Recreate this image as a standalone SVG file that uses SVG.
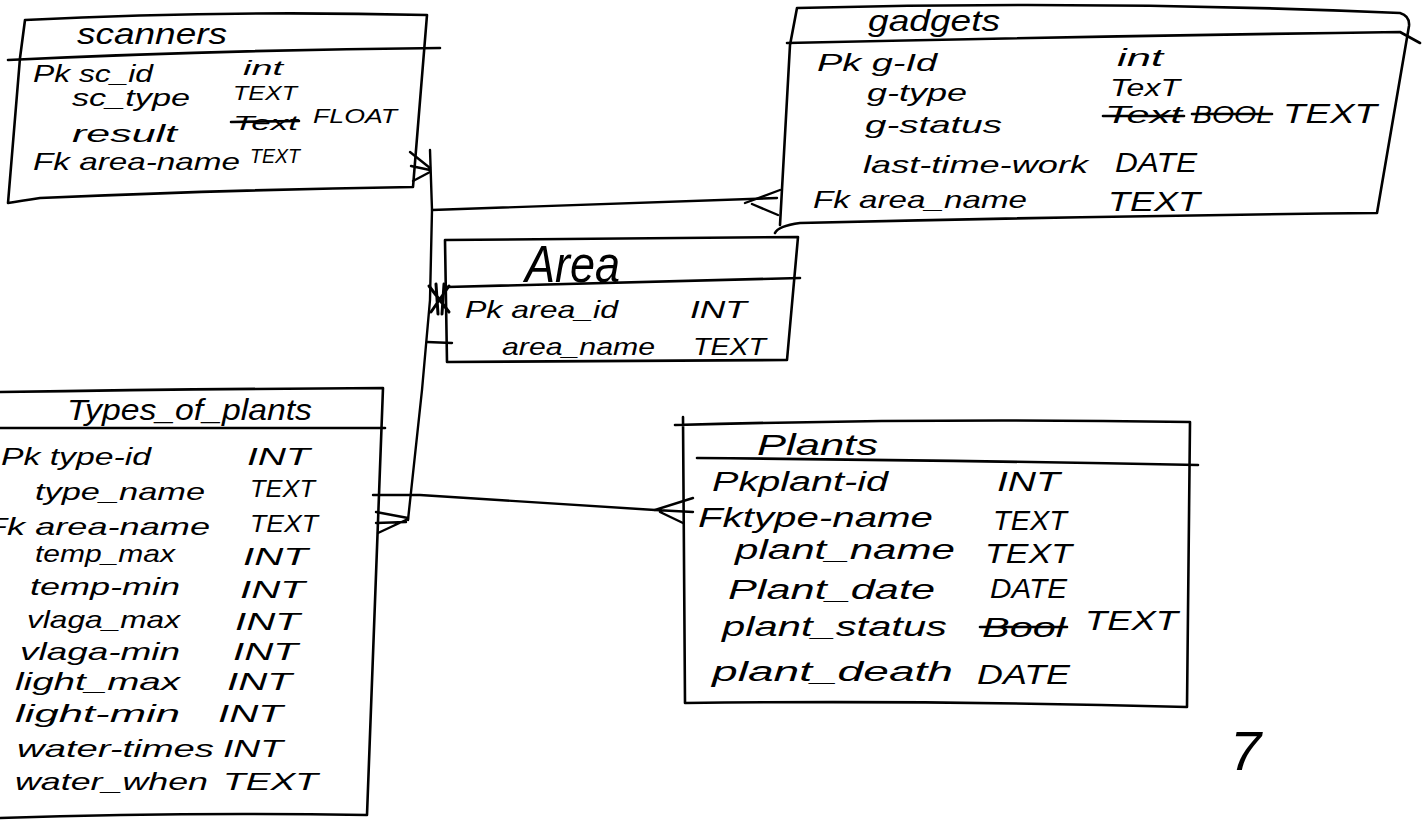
<svg xmlns="http://www.w3.org/2000/svg" width="1424" height="821" viewBox="0 0 1424 821">
<style>
.e{fill:none;stroke:#000;stroke-width:2.6;stroke-linecap:round;stroke-linejoin:round}
.c{fill:none;stroke:#000;stroke-width:2.4;stroke-linecap:round;stroke-linejoin:round}
.s{stroke:#000;stroke-width:2.6;stroke-linecap:round}
text{font-family:"Liberation Sans",Arial,sans-serif;font-style:italic;font-size:24px;fill:#000}
.t{font-size:30px}
.m{font-size:21px}
.p{font-size:27px}
</style>
<rect width="1424" height="821" fill="#fff"/>

<g id="connectors">
  <polyline class="c" points="430,150 432,210 430,300 422,390 408,520"/>
  <path class="c" d="M410,152 L430,168 M411,166 L430,170 M413,181 L430,172"/>
  <path class="c" d="M432,210 L777,198"/>
  <path class="c" d="M745,203 L780,190 M752,204 L778,215"/>
  <path class="c" d="M427,342 L452,343"/>
  <path class="e" d="M429,286 L449,312 M431,312 L449,286 M436,284 L438,314 M444,284 L442,314" style="stroke-width:3"/>
  <path class="c" d="M373,495 L420,495 L655,510"/>
  <path class="c" d="M376,512 L408,518 M378,533 L408,519 M376,523 L406,522"/>
  <path class="c" d="M655,510 L693,498 M655,510 L693,512 M660,512 L683,523"/>
</g>

<g id="scanners">
  <path class="e" d="M25,20 Q220,10 427,15 L413,187 Q220,190 40,198 Q20,201 8,203 L20,58 Z"/>
  <path class="e" d="M8,60 Q220,50 440,48"/>
  <text class="t" x="77" y="44" textLength="150" lengthAdjust="spacingAndGlyphs">scanners</text>
  <text x="33" y="82" textLength="120" lengthAdjust="spacingAndGlyphs">Pk sc_id</text>
  <text class="m" x="243" y="75" textLength="40" lengthAdjust="spacingAndGlyphs">int</text>
  <text x="72" y="106" textLength="118" lengthAdjust="spacingAndGlyphs">sc_type</text>
  <text class="m" x="233" y="100" textLength="64" lengthAdjust="spacingAndGlyphs">TEXT</text>
  <text x="72" y="142" textLength="105" lengthAdjust="spacingAndGlyphs">result</text>
  <text class="m" x="233" y="130" textLength="65" lengthAdjust="spacingAndGlyphs">Text</text>
  <line class="s" x1="231" y1="122" x2="299" y2="121"/>
  <text class="m" x="313" y="123" textLength="84" lengthAdjust="spacingAndGlyphs">FLOAT</text>
  <text x="33" y="170" textLength="207" lengthAdjust="spacingAndGlyphs">Fk area-name</text>
  <text class="m" x="250" y="163" textLength="50" lengthAdjust="spacingAndGlyphs">TEXT</text>
</g>

<g id="gadgets">
  <path class="e" d="M797,8 Q1100,0 1400,13 Q1410,16 1409,26 L1377,213 Q1100,216 800,223 Q778,226 775,233 M780,225 L790,45 L797,8"/>
  <path class="e" d="M787,43 Q1100,36 1400,32 L1420,43"/>
  <text class="t" x="868" y="31" textLength="132" lengthAdjust="spacingAndGlyphs">gadgets</text>
  <text x="817" y="71" textLength="120" lengthAdjust="spacingAndGlyphs">Pk g-Id</text>
  <text x="1117" y="66" textLength="46" lengthAdjust="spacingAndGlyphs">int</text>
  <text x="867" y="101" textLength="100" lengthAdjust="spacingAndGlyphs">g-type</text>
  <text x="1110" y="96" textLength="70" lengthAdjust="spacingAndGlyphs">TexT</text>
  <text x="865" y="133" textLength="137" lengthAdjust="spacingAndGlyphs">g-status</text>
  <text x="1105" y="123" textLength="77" lengthAdjust="spacingAndGlyphs">Text</text>
  <line class="s" x1="1103" y1="116" x2="1184" y2="116"/>
  <text x="1193" y="123" textLength="79" lengthAdjust="spacingAndGlyphs">BOOL</text>
  <line class="s" x1="1192" y1="114" x2="1272" y2="114"/>
  <text class="p" x="1283" y="123" textLength="94" lengthAdjust="spacingAndGlyphs">TEXT</text>
  <text x="863" y="173" textLength="225" lengthAdjust="spacingAndGlyphs">last-time-work</text>
  <text class="p" x="1115" y="172" textLength="82" lengthAdjust="spacingAndGlyphs">DATE</text>
  <text x="813" y="208" textLength="214" lengthAdjust="spacingAndGlyphs">Fk area_name</text>
  <text class="p" x="1108" y="211" textLength="92" lengthAdjust="spacingAndGlyphs">TEXT</text>
</g>

<g id="area">
  <path class="e" d="M445,240 L798,237 L787,360 L447,362 Z"/>
  <path class="e" d="M447,287 L800,278"/>
  <text x="525" y="282" style="font-size:52px" textLength="95" lengthAdjust="spacingAndGlyphs">Area</text>
  <text x="465" y="318" textLength="153" lengthAdjust="spacingAndGlyphs">Pk area_id</text>
  <text x="690" y="318" textLength="57" lengthAdjust="spacingAndGlyphs">INT</text>
  <text x="502" y="355" textLength="153" lengthAdjust="spacingAndGlyphs">area_name</text>
  <text x="693" y="355" textLength="73" lengthAdjust="spacingAndGlyphs">TEXT</text>
</g>

<g id="types_of_plants">
  <path class="e" d="M0,392 Q200,389 383,388 L367,815 Q180,812 0,818"/>
  <path class="e" d="M0,428 L385,428"/>
  <text class="t" x="67" y="420" textLength="245" lengthAdjust="spacingAndGlyphs">Types_of_plants</text>
  <text x="1" y="465" textLength="150" lengthAdjust="spacingAndGlyphs">Pk type-id</text>
  <text x="247" y="465" textLength="63" lengthAdjust="spacingAndGlyphs">INT</text>
  <text x="35" y="500" textLength="170" lengthAdjust="spacingAndGlyphs">type_name</text>
  <text x="250" y="497" textLength="65" lengthAdjust="spacingAndGlyphs">TEXT</text>
  <text x="-15" y="535" textLength="225" lengthAdjust="spacingAndGlyphs">Fk area-name</text>
  <text x="250" y="532" textLength="68" lengthAdjust="spacingAndGlyphs">TEXT</text>
  <text x="35" y="562" textLength="140" lengthAdjust="spacingAndGlyphs">temp_max</text>
  <text x="243" y="565" textLength="65" lengthAdjust="spacingAndGlyphs">INT</text>
  <text x="30" y="595" textLength="150" lengthAdjust="spacingAndGlyphs">temp-min</text>
  <text x="240" y="598" textLength="65" lengthAdjust="spacingAndGlyphs">INT</text>
  <text x="27" y="628" textLength="153" lengthAdjust="spacingAndGlyphs">vlaga_max</text>
  <text x="235" y="630" textLength="65" lengthAdjust="spacingAndGlyphs">INT</text>
  <text x="20" y="660" textLength="160" lengthAdjust="spacingAndGlyphs">vlaga-min</text>
  <text x="233" y="660" textLength="65" lengthAdjust="spacingAndGlyphs">INT</text>
  <text x="15" y="690" textLength="165" lengthAdjust="spacingAndGlyphs">light_max</text>
  <text x="227" y="690" textLength="65" lengthAdjust="spacingAndGlyphs">INT</text>
  <text x="15" y="722" textLength="165" lengthAdjust="spacingAndGlyphs">light-min</text>
  <text x="218" y="722" textLength="65" lengthAdjust="spacingAndGlyphs">INT</text>
  <text x="17" y="757" textLength="197" lengthAdjust="spacingAndGlyphs">water-times</text>
  <text x="223" y="757" textLength="60" lengthAdjust="spacingAndGlyphs">INT</text>
  <text x="15" y="790" textLength="193" lengthAdjust="spacingAndGlyphs">water_when</text>
  <text x="223" y="790" textLength="95" lengthAdjust="spacingAndGlyphs">TEXT</text>
</g>

<g id="plants">
  <path class="e" d="M675,425 Q930,418 1190,422 L1187,707 Q930,700 685,703 L683,417"/>
  <path class="e" d="M697,458 Q940,460 1198,465"/>
  <text class="t" x="757" y="455" textLength="121" lengthAdjust="spacingAndGlyphs">Plants</text>
  <text class="p" x="712" y="491" textLength="176" lengthAdjust="spacingAndGlyphs">Pkplant-id</text>
  <text class="p" x="997" y="491" textLength="63" lengthAdjust="spacingAndGlyphs">INT</text>
  <text class="p" x="698" y="527" textLength="235" lengthAdjust="spacingAndGlyphs">Fktype-name</text>
  <text class="p" x="993" y="530" textLength="74" lengthAdjust="spacingAndGlyphs">TEXT</text>
  <text class="p" x="735" y="559" textLength="220" lengthAdjust="spacingAndGlyphs">plant_name</text>
  <text class="p" x="985" y="563" textLength="87" lengthAdjust="spacingAndGlyphs">TEXT</text>
  <text class="p" x="728" y="599" textLength="207" lengthAdjust="spacingAndGlyphs">Plant_date</text>
  <text class="p" x="990" y="598" textLength="77" lengthAdjust="spacingAndGlyphs">DATE</text>
  <text class="p" x="722" y="636" textLength="225" lengthAdjust="spacingAndGlyphs">plant_status</text>
  <text class="p" x="982" y="637" textLength="83" lengthAdjust="spacingAndGlyphs">Bool</text>
  <line class="s" x1="980" y1="627" x2="1067" y2="627"/>
  <text class="p" x="1085" y="630" textLength="93" lengthAdjust="spacingAndGlyphs">TEXT</text>
  <text class="p" x="712" y="681" textLength="241" lengthAdjust="spacingAndGlyphs">plant_death</text>
  <text class="p" x="977" y="684" textLength="93" lengthAdjust="spacingAndGlyphs">DATE</text>
</g>

<text x="1230" y="770" style="font-size:56px">7</text>
</svg>
